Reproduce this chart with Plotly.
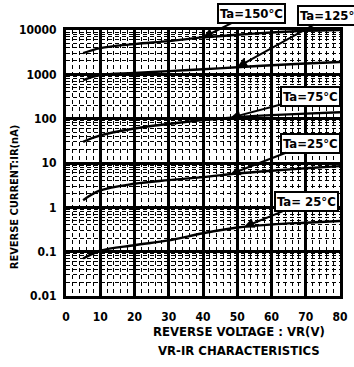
import numpy as np
import plotly.graph_objects as go

# ---- data ----
voltage = [5, 10, 20, 30, 40, 50, 60, 70, 80]
ir_150 = [3000, 3900, 4800, 5600, 6800, 7800, 8800, 9600, 10000]
ir_125 = [740, 960, 1070, 1180, 1300, 1450, 1600, 1750, 1900]
ir_75 = [30, 42, 60, 76, 93, 108, 120, 130, 140]
ir_25a = [1.45, 2.4, 3.4, 4.1, 4.8, 5.8, 6.7, 7.6, 8.5]
ir_25b = [0.07, 0.105, 0.14, 0.18, 0.26, 0.35, 0.41, 0.45, 0.49]
labels = ["Ta=150°C", "Ta=125°C", "Ta=75°C", "Ta=25°C", "Ta= 25°C"]

x_ticks = [0, 10, 20, 30, 40, 50, 60, 70, 80]
y_ticks = [0.01, 0.1, 1, 10, 100, 1000, 10000]
y_ticktext = ["0.01", "0.1", "1", "10", "100", "1000", "10000"]

series = [ir_150, ir_125, ir_75, ir_25a, ir_25b]

FONT = "Liberation Sans Narrow, Arial Narrow, DejaVu Sans Condensed, sans-serif"

fig = go.Figure()
for ys in series:
    fig.add_trace(go.Scatter(x=voltage, y=ys, mode="lines",
                             line=dict(color="black", width=2.4, shape="spline"),
                             showlegend=False, hoverinfo="skip"))

# label callouts: (tip voltage, pixel offset of label box)
callouts = [(40, 48, -24), (50, 94, -52), (48, 80, -21), (48, 80, -31), (52, 62, -25)]
for lab, ys, (vx, ax, ay) in zip(labels, series, callouts):
    yv = np.interp(vx, voltage, np.log10(ys))
    fig.add_annotation(x=vx, y=yv, xref="x", yref="y", ax=ax, ay=ay,
                       text="<b>%s</b>" % lab, showarrow=True,
                       arrowhead=2, arrowsize=1, arrowwidth=2, arrowcolor="black",
                       font=dict(family=FONT, size=13, color="black"),
                       bgcolor="white", bordercolor="black", borderwidth=2, borderpad=1)

fig.add_annotation(text="<b>REVERSE CURRENT:IR(nA)</b>", textangle=-90,
                   xref="paper", yref="paper", x=-0.19, y=0.375,
                   xanchor="center", yanchor="middle", showarrow=False,
                   font=dict(family=FONT, size=11, color="black"))
fig.add_annotation(text="<b>REVERSE VOLTAGE : VR(V)</b>",
                   xref="paper", yref="paper", x=0.63, y=-0.132,
                   xanchor="center", yanchor="middle", showarrow=False,
                   font=dict(family=FONT, size=13, color="black"))
fig.add_annotation(text="<b>VR-IR CHARACTERISTICS</b>",
                   xref="paper", yref="paper", x=0.63, y=-0.205,
                   xanchor="center", yanchor="middle", showarrow=False,
                   font=dict(family=FONT, size=13, color="black"))

fig.update_xaxes(range=[0, 80], tickvals=x_ticks, ticktext=[str(v) for v in x_ticks],
                 showgrid=True, gridcolor="black", gridwidth=2.5,
                 minor=dict(dtick=2, showgrid=True, gridcolor="black", gridwidth=1.2,
                            griddash="4px,3px"),
                 showline=True, linecolor="black", linewidth=3, mirror=True,
                 ticks="", zeroline=False, ticklabelstandoff=8,
                 tickfont=dict(family=FONT, size=12, color="black", weight="bold"))
fig.update_yaxes(type="log", range=[-2, 4], tickvals=y_ticks, ticktext=y_ticktext,
                 showgrid=True, gridcolor="black", gridwidth=2.5,
                 minor=dict(dtick="D1", showgrid=True, gridcolor="black", gridwidth=1.2,
                            griddash="4px,3px"),
                 showline=True, linecolor="black", linewidth=3, mirror=True,
                 ticks="", zeroline=False, ticklabelstandoff=4,
                 tickfont=dict(family=FONT, size=12, color="black", weight="bold"))

fig.update_layout(width=354, height=367, margin=dict(l=66, r=6, t=30, b=71),
                  plot_bgcolor="white", paper_bgcolor="white", showlegend=False)

fig.write_html("out.html", config={"displayModeBar": False},
               post_script="document.body.style.margin='0';")
